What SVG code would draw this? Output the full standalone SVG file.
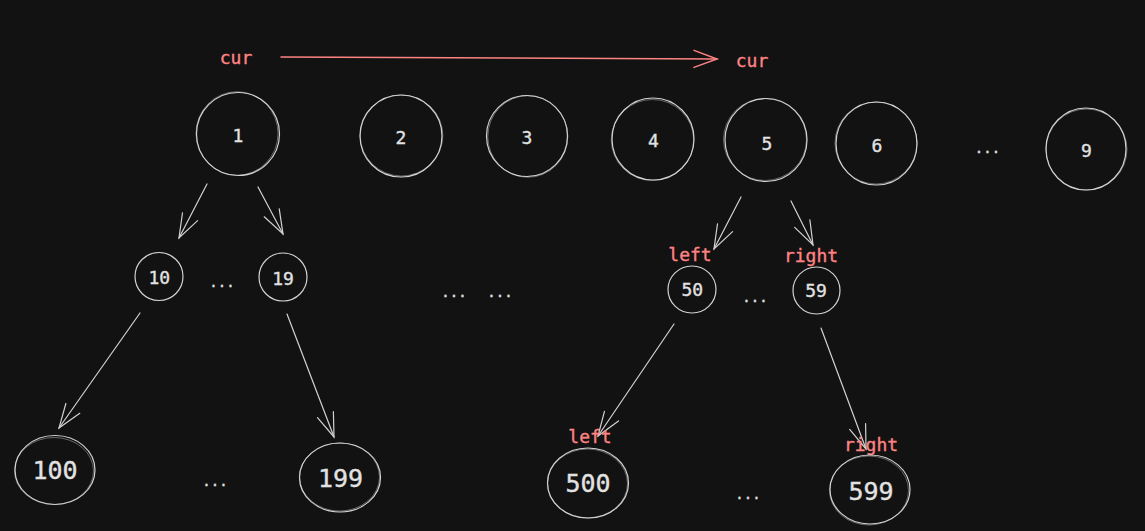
<svg xmlns="http://www.w3.org/2000/svg" width="1145" height="531" viewBox="0 0 1145 531">
  <defs>
    <style>
      .c{fill:none;stroke:#d2d2d2;stroke-width:1.2}
      .c2{fill:none;stroke:#d2d2d2;stroke-width:0.8;opacity:0.55}
      .t{font-family:"DejaVu Sans Mono","Liberation Mono",monospace;fill:#e2e2e2;stroke:#e2e2e2;stroke-width:0.35;text-anchor:middle}
      .n{font-size:18px}
      .b{font-size:25px}
      .d{font-size:14px}
      .lab{font-family:"DejaVu Sans Mono","Liberation Mono",monospace;fill:#ff8383;stroke:#ff8383;stroke-width:0.35;text-anchor:middle;font-size:18px}
      .ln{fill:none;stroke:#d2d2d2;stroke-width:1.2;stroke-linecap:round}
      .rl{fill:none;stroke:#ff8383;stroke-width:1.5;stroke-linecap:round}
    </style>
    <marker id="ah" markerUnits="userSpaceOnUse" markerWidth="40" markerHeight="40" viewBox="-30 -15 40 30" refX="0" refY="0" orient="auto">
      <path d="M-24 -8.5 L0 0 L-24 8.5" fill="none" stroke="#d2d2d2" stroke-width="1.2" stroke-linecap="round"/>
    </marker>
    <marker id="ahr" markerUnits="userSpaceOnUse" markerWidth="40" markerHeight="40" viewBox="-30 -15 40 30" refX="0" refY="0" orient="auto">
      <path d="M-23 -8.5 L0 0 L-23 8.5" fill="none" stroke="#ff8383" stroke-width="1.5" stroke-linecap="round"/>
    </marker>
  </defs>
  <rect width="1145" height="531" fill="#121212"/>

  <g id="connectors">
    <line class="rl" x1="281" y1="57" x2="717" y2="59" marker-end="url(#ahr)"/>
    <line class="ln" x1="207" y1="184" x2="179" y2="238" marker-end="url(#ah)"/>
    <line class="ln" x1="258" y1="187" x2="283" y2="234" marker-end="url(#ah)"/>
    <line class="ln" x1="140" y1="313" x2="59" y2="428" marker-end="url(#ah)"/>
    <line class="ln" x1="287" y1="314" x2="334" y2="437" marker-end="url(#ah)"/>
    <line class="ln" x1="741" y1="197" x2="714" y2="249" marker-end="url(#ah)"/>
    <line class="ln" x1="791" y1="201" x2="813" y2="245" marker-end="url(#ah)"/>
    <line class="ln" x1="674" y1="324" x2="598" y2="436" marker-end="url(#ah)"/>
    <line class="ln" x1="821" y1="328" x2="866" y2="449" marker-end="url(#ah)"/>
  </g>

  <g id="labels">
    <text class="lab" x="236" y="64">cur</text>
    <text class="lab" x="752" y="67">cur</text>
    <text class="lab" x="690" y="261">left</text>
    <text class="lab" x="811" y="262">right</text>
    <text class="lab" x="590" y="443">left</text>
    <text class="lab" x="871" y="451">right</text>
  </g>

  <g id="n1"><ellipse class="c" cx="238" cy="134" rx="41.5" ry="41.5"/><ellipse class="c2" cx="237" cy="133.5" rx="41" ry="41.8"/><text class="t n" x="238" y="141.5">1</text></g>
  <g id="n2"><ellipse class="c" cx="401" cy="136" rx="41" ry="41"/><ellipse class="c2" cx="401.5" cy="135.5" rx="41.3" ry="40.5"/><text class="t n" x="401" y="143.5">2</text></g>
  <g id="n3"><ellipse class="c" cx="527" cy="136" rx="40.5" ry="40.5"/><ellipse class="c2" cx="527.8" cy="136.5" rx="40" ry="40.8"/><text class="t n" x="527" y="144">3</text></g>
  <g id="n4"><ellipse class="c" cx="653" cy="139" rx="41" ry="41"/><ellipse class="c2" cx="652.5" cy="140" rx="41.2" ry="40.5"/><text class="t n" x="653.5" y="147">4</text></g>
  <g id="n5"><ellipse class="c" cx="766" cy="140" rx="41" ry="41.5"/><ellipse class="c2" cx="765" cy="139.5" rx="41.5" ry="41"/><text class="t n" x="767" y="149.5">5</text></g>
  <g id="n6"><ellipse class="c" cx="876.5" cy="143.5" rx="40.5" ry="41.5"/><ellipse class="c2" cx="876" cy="143" rx="41" ry="41"/><text class="t n" x="877" y="152">6</text></g>
  <g id="dots-top"><text class="t d" x="987.5" y="153">...</text></g>
  <g id="n9"><ellipse class="c" cx="1086" cy="149" rx="40" ry="41"/><ellipse class="c2" cx="1086.5" cy="149.5" rx="40.5" ry="40.5"/><text class="t n" x="1086.5" y="156.5">9</text></g>

  <g id="n10"><ellipse class="c" cx="159" cy="276.5" rx="24" ry="24"/><text class="t n" x="159.3" y="284">10</text></g>
  <g id="dots-10-19"><text class="t d" x="222" y="287">...</text></g>
  <g id="n19"><ellipse class="c" cx="283" cy="277" rx="24" ry="24"/><text class="t n" x="283" y="285">19</text></g>
  <g id="dots-mid1"><text class="t d" x="454" y="297">...</text></g>
  <g id="dots-mid2"><text class="t d" x="500" y="297">...</text></g>
  <g id="n50"><ellipse class="c" cx="692" cy="289.5" rx="24" ry="23.5"/><text class="t n" x="692.3" y="296">50</text></g>
  <g id="dots-50-59"><text class="t d" x="755" y="302">...</text></g>
  <g id="n59"><ellipse class="c" cx="816.5" cy="290.5" rx="23.5" ry="23.5"/><text class="t n" x="816" y="297">59</text></g>

  <g id="n100"><ellipse class="c" cx="55" cy="470" rx="40" ry="34.5"/><ellipse class="c2" cx="54" cy="471" rx="39.5" ry="33.5"/><text class="t b" x="55" y="479">100</text></g>
  <g id="dots-100-199"><text class="t d" x="215" y="486">...</text></g>
  <g id="n199"><ellipse class="c" cx="340" cy="477.5" rx="40.5" ry="34.5"/><ellipse class="c2" cx="339.5" cy="477" rx="40" ry="34"/><text class="t b" x="340.5" y="487">199</text></g>
  <g id="n500"><ellipse class="c" cx="588" cy="483" rx="40.5" ry="35"/><ellipse class="c2" cx="587.5" cy="483.5" rx="40" ry="34.5"/><text class="t b" x="588" y="492">500</text></g>
  <g id="dots-500-599"><text class="t d" x="748" y="499">...</text></g>
  <g id="n599"><ellipse class="c" cx="870" cy="489.5" rx="40" ry="34.5"/><ellipse class="c2" cx="869" cy="490.5" rx="39.5" ry="34.5"/><text class="t b" x="871" y="500">599</text></g>
</svg>
